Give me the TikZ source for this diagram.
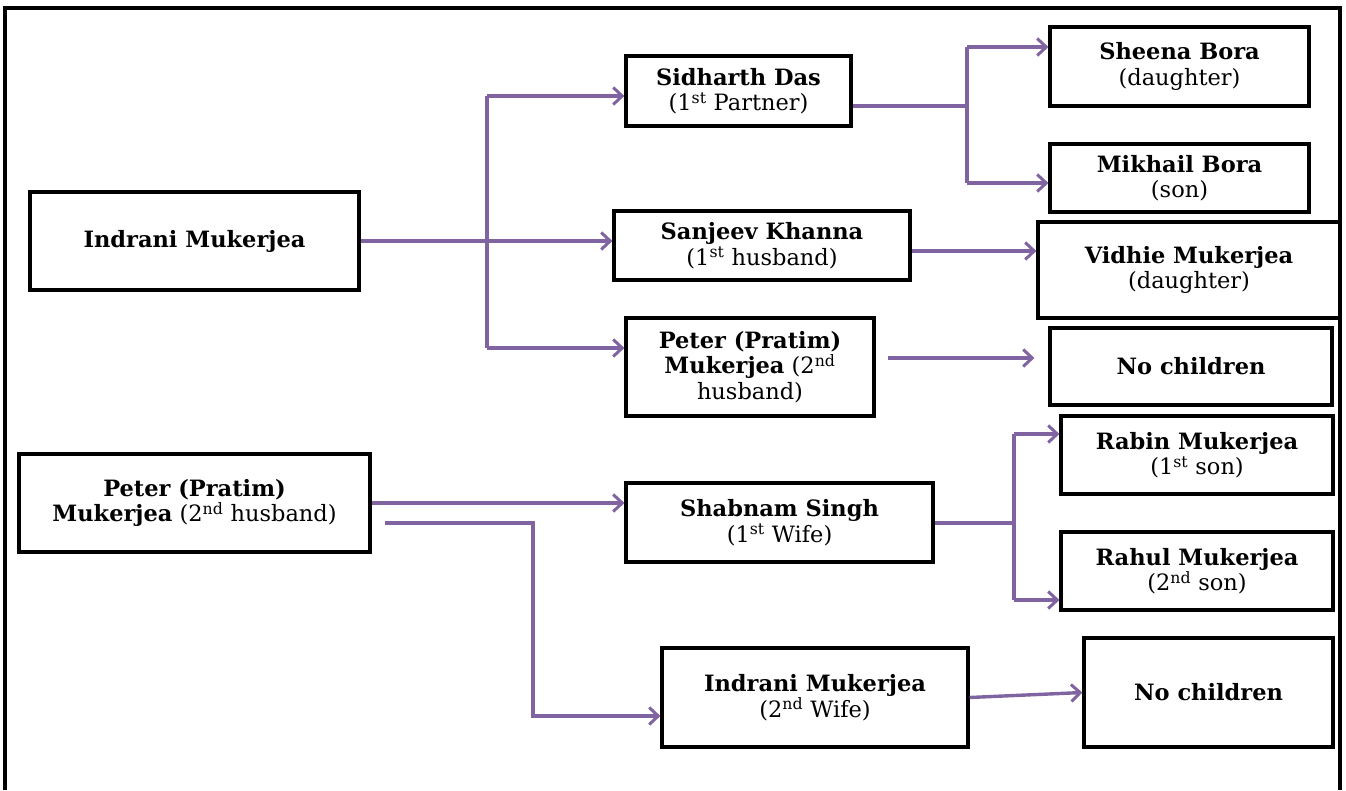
\documentclass[tikz,border=0pt]{standalone}
\usepackage{fontspec}
\setmainfont{DejaVu Serif}
\usepackage[svgnames]{xcolor}
\usetikzlibrary{arrows.meta, calc, positioning}
\definecolor{linkpurple}{RGB}{128,100,162}

\begin{document}
\begin{tikzpicture}[x=1pt, y=-1pt,
  person_node/.style={draw, line width=3.2pt, fill=white, align=center, inner sep=2pt, font=\fontsize{22.5}{25.5}\selectfont},
  trunk/.style={draw=linkpurple, line width=3.4pt},
  link/.style={trunk, -{Straight Barb[length=9pt,width=17pt,line width=3pt]}}]

\useasboundingbox (0,0) rectangle (1346,790);
\draw[line width=3.5pt] (5,790) |- (1340,8) -- (1340,790);

% Indrani Mukerjea and her partners
\node[person_node, minimum width=329pt, minimum height=98pt] (indrani_a) at (194.5,241) {\textbf{Indrani Mukerjea}};
\node[person_node, minimum width=225pt, minimum height=70pt] (sidharth) at (738.5,91) {\textbf{Sidharth Das}\\(1\textsuperscript{st} Partner)};
\node[person_node, minimum width=296pt, minimum height=69pt] (sanjeev) at (762,245.5) {\textbf{Sanjeev Khanna}\\(1\textsuperscript{st} husband)};
\node[person_node, minimum width=248pt, minimum height=98pt] (peter_a) at (750,367) {\textbf{Peter (Pratim)}\\\textbf{Mukerjea} (2\textsuperscript{nd}\\husband)};

\node[person_node, minimum width=259pt, minimum height=79pt] (sheena) at (1179.5,66.5) {\textbf{Sheena Bora}\\(daughter)};
\node[person_node, minimum width=259pt, minimum height=68pt] (mikhail) at (1179.5,178) {\textbf{Mikhail Bora}\\(son)};
\node[person_node, minimum width=302pt, minimum height=96pt] (vidhie) at (1189,270) {\textbf{Vidhie Mukerjea}\\(daughter)};
\node[person_node, minimum width=282pt, minimum height=77pt] (nochild_a) at (1191,366.5) {\textbf{No children}};

% Peter Mukerjea and his wives
\node[person_node, minimum width=351pt, minimum height=98pt] (peter_b) at (194.5,503) {\textbf{Peter (Pratim)}\\\textbf{Mukerjea} (2\textsuperscript{nd} husband)};
\node[person_node, minimum width=307pt, minimum height=79pt] (shabnam) at (779.5,522.5) {\textbf{Shabnam Singh}\\(1\textsuperscript{st} Wife)};
\node[person_node, minimum width=306pt, minimum height=99pt] (indrani_b) at (815,697.5) {\textbf{Indrani Mukerjea}\\(2\textsuperscript{nd} Wife)};

\node[person_node, minimum width=272pt, minimum height=78pt] (rabin) at (1197,455) {\textbf{Rabin Mukerjea}\\(1\textsuperscript{st} son)};
\node[person_node, minimum width=272pt, minimum height=78pt] (rahul) at (1197,571) {\textbf{Rahul Mukerjea}\\(2\textsuperscript{nd} son)};
\node[person_node, minimum width=249pt, minimum height=109pt] (nochild_b) at (1208.5,692.5) {\textbf{No children}};

\coordinate (fork_a) at (487,96);
\coordinate (fork_b) at (487,348);
\coordinate (fork_c) at (967,47);
\coordinate (fork_cm) at (967,106);
\coordinate (fork_d) at (967,183);
\coordinate (fork_e) at (1014,434);
\coordinate (fork_em) at (1014,523);
\coordinate (fork_f) at (1014,600);
\coordinate (bend_a) at (533,523);
\coordinate (sanjeev_out) at ([yshift=-5.5pt]sanjeev.east);
\coordinate (peter_a_out) at ([xshift=12pt,yshift=9pt]peter_a.east);
\coordinate (peter_b_out) at ([xshift=13pt,yshift=-20pt]peter_b.east);
\coordinate (indrani_b_in) at ([yshift=-18.5pt]indrani_b.west);

\path[trunk] (fork_a) -- (fork_b) (fork_c) -- (fork_d) (fork_e) -- (fork_f)
  (sidharth.east |- fork_cm) -- (fork_cm) (shabnam.east |- fork_em) -- (fork_em);

\path
\foreach \i/\j in {fork_a/sidharth, indrani_a.east/sanjeev, fork_b/peter_a, fork_c/sheena, fork_d/mikhail,
  sanjeev_out/vidhie, peter_b.east/shabnam, fork_e/rabin, fork_f/rahul}{(\i) edge[link] (\i -| \j.west)};

\draw[link, shorten >=14pt] (peter_a_out) -- (peter_a_out -| nochild_a.west);
\draw[link] (peter_b_out) -- (bend_a) |- (indrani_b_in);
\draw[link] (indrani_b.east) -- (nochild_b.west);

\end{tikzpicture}
\end{document}
